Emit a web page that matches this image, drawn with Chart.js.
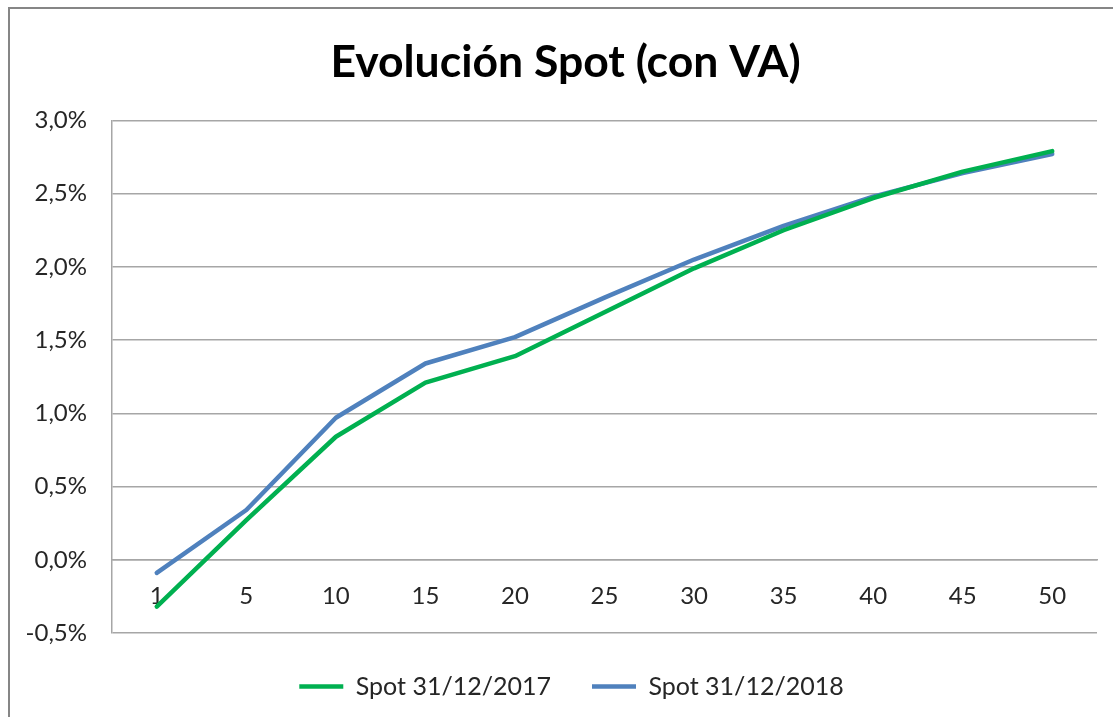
<!DOCTYPE html>
<html>
<head>
<meta charset="utf-8">
<script src="https://cdn.jsdelivr.net/npm/chart.js@4/dist/chart.umd.min.js"></script>
<style>
  html, body { margin: 0; padding: 0; background: #fff; }
  #wrap { position: relative; width: 1113px; height: 717px; overflow: hidden; }
  #frame { position: absolute; left: 8px; top: 7px; width: 1300px; height: 900px; border: 2px solid #868686; box-sizing: border-box; }
  canvas { position: absolute; left: 0; top: 0; }
</style>
</head>
<body>
<div id="wrap">
  <div id="frame"></div>
  <canvas id="c" width="1113" height="717"></canvas>
</div>
<script>
const categories = ['1', '5', '10', '15', '20', '25', '30', '35', '40', '45', '50'];
const spot2017 = [-0.32, 0.27, 0.84, 1.21, 1.39, 1.69, 1.99, 2.25, 2.47, 2.65, 2.79];
const spot2018 = [-0.09, 0.34, 0.97, 1.34, 1.52, 1.79, 2.05, 2.28, 2.48, 2.64, 2.77];
const seriesNames = ['Spot 31/12/2017', 'Spot 31/12/2018'];
const yMin = -0.5, yMax = 3.0, yStep = 0.5;

const FONT = 'Lato, "Open Sans", sans-serif';
const GRID = '#a6a6a6';

// shift the legend and title blocks slightly right, as in the original
const blockShift = {
  id: 'blockShift',
  afterLayout(chart) {
    if (chart.legend) { chart.legend.left += 18; chart.legend.right += 18; }
    if (chart.titleBlock) { chart.titleBlock.left += 12; chart.titleBlock.right += 12; }
  }
};

new Chart(document.getElementById('c'), {
  type: 'line',
  data: {
    labels: categories,
    datasets: [
      { label: seriesNames[0], data: spot2017, borderColor: '#00b050', backgroundColor: '#00b050', borderWidth: 4.5, pointRadius: 0, tension: 0, borderCapStyle: 'round', borderJoinStyle: 'round' },
      { label: seriesNames[1], data: spot2018, borderColor: '#4f81bd', backgroundColor: '#4f81bd', borderWidth: 4.5, pointRadius: 0, tension: 0, borderCapStyle: 'round', borderJoinStyle: 'round' }
    ]
  },
  plugins: [blockShift],
  options: {
    responsive: false,
    animation: false,
    layout: { padding: { left: 10, right: 16, top: 18, bottom: 8 } },
    plugins: {
      title: {
        display: true,
        text: 'Evolución Spot (con VA)',
        color: '#000',
        font: { family: FONT, size: 44.5, weight: 'bold', lineHeight: 1.2 },
        padding: { top: 18, bottom: 31 }
      },
      legend: {
        position: 'bottom',
        labels: {
          usePointStyle: true,
          pointStyle: 'line',
          pointStyleWidth: 44,
          color: '#262626',
          font: { family: FONT, size: 25 },
          padding: 41
        }
      },
      tooltip: { enabled: false }
    },
    scales: {
      x: {
        position: { y: 0 },
        offset: true,
        grid: { display: false, drawTicks: false },
        border: { display: true, color: GRID, width: 1.5 },
        ticks: { color: '#262626', font: { family: FONT, size: 24 }, padding: 22, maxRotation: 0, autoSkip: false }
      },
      y: {
        min: yMin, max: yMax,
        afterFit: s => { s.width = 102; },
        grid: { color: GRID, lineWidth: 1.5, drawTicks: false },
        border: { display: true, color: GRID, width: 1.5 },
        ticks: {
          stepSize: yStep,
          color: '#262626',
          padding: 25,
          font: { family: FONT, size: 24 },
          callback: v => v.toFixed(1).replace('.', ',') + '%'
        }
      }
    }
  }
});
</script>
</body>
</html>
